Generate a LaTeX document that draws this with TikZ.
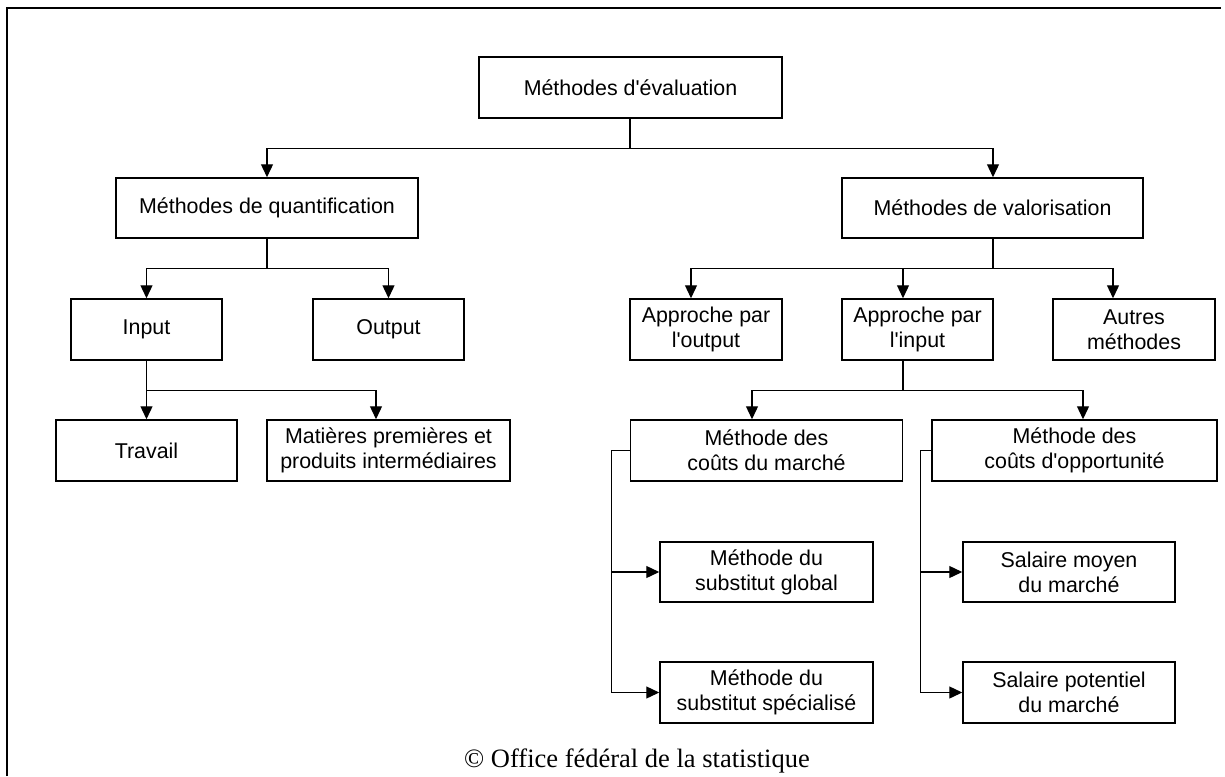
\documentclass[tikz,border=0pt]{standalone}
\usepackage{fontspec}
\setmainfont{Liberation Sans}
\newfontfamily\footfont{Liberation Serif}
\usetikzlibrary{arrows.meta}
\newcommand{\sq}{\textquotesingle}
\tikzset{
  box/.style={draw, line width=0.75pt, inner sep=0pt, align=center,
    font=\fontsize{10.7pt}{12.6pt}\selectfont},
  conn/.style={line width=0.65pt},
  arr/.style={conn, -{Triangle[width=6pt,length=6.5pt]}},
}
\begin{document}
\begin{tikzpicture}[x=0.5pt,y=-0.5pt]
\useasboundingbox (0,0) rectangle (1225,776);
% frame
\draw[line width=1pt] (6.5,776) -- (6.5,8) -- (1221,8);

% nodes
\node[box, minimum width=151.5pt, minimum height=30.5pt] (root) at (630.5,87.5) {Méthodes d\sq évaluation};
\node[box, minimum width=151pt, minimum height=30pt] (quant) at (267,208) {Méthodes de quantification};
\node[box, minimum width=150.5pt, minimum height=30pt] (valo) at (992.5,208) {Méthodes de valorisation};

\node[box, minimum width=75.5pt, minimum height=30.5pt] (input) at (146.5,329.5) {Input};
\node[box, minimum width=75.5pt, minimum height=30.5pt] (output) at (388.5,329.5) {Output};
\node[box, minimum width=90.5pt, minimum height=30.5pt] (travail) at (146.5,450.5) {Travail};
\node[box, minimum width=121.5pt, minimum height=30.5pt] (mat) at (388.5,450.5) {Matières premières et\\produits intermédiaires};

\node[box, minimum width=76pt, minimum height=30.5pt] (appout) at (706,329.5) {Approche par\\l\sq output};
\node[box, minimum width=75.5pt, minimum height=30.5pt] (appin) at (917.5,329.5) {Approche par\\l\sq input};
\node[box, minimum width=81pt, minimum height=30.5pt] (autres) at (1134,329.5) {Autres\\méthodes};

\node[box, minimum width=136pt, minimum height=30.5pt] (marche) at (766.5,450.5) {Méthode des\\coûts du marché};
\node[box, minimum width=142.5pt, minimum height=30.5pt] (opport) at (1074.5,450.5) {Méthode des\\coûts d\sq opportunité};

\node[box, minimum width=106.5pt, minimum height=30pt] (subglob) at (766.5,572) {Méthode du\\substitut global};
\node[box, minimum width=106.5pt, minimum height=30.5pt] (subspec) at (766.5,692.5) {Méthode du\\substitut spécialisé};
\node[box, minimum width=106pt, minimum height=30pt] (salmoy) at (1069,572) {Salaire moyen\\du marché};
\node[box, minimum width=106pt, minimum height=30.5pt] (salpot) at (1069,692.5) {Salaire potentiel\\du marché};

\node[font=\footfont\fontsize{13.25pt}{15pt}\selectfont, anchor=base, inner sep=0pt] (foot) at (637,767) {© Office fédéral de la statistique};

% connectors
\draw[arr] ([xshift=-0.25pt]root.south) -- ++(0,30) -| (quant.north);
\draw[arr] ([xshift=-0.25pt]root.south) -- ++(0,30) -| ([xshift=0.25pt]valo.north);

\draw[arr] (quant.south) -- ++(0,30) -| (input.north);
\draw[arr] (quant.south) -- ++(0,30) -| (output.north);

\draw[arr] (input.south) -- ++(0,30) -| (travail.north);
\draw[arr] (input.south) -- ++(0,30) -| ([xshift=-6.25pt]mat.north);

\draw[arr] ([xshift=0.25pt]valo.south) -- ++(0,30) -| ([xshift=-7.5pt]appout.north);
\draw[arr] ([xshift=0.25pt]valo.south) -- ++(0,30) -| ([xshift=-7.25pt]appin.north);
\draw[arr] ([xshift=0.25pt]valo.south) -- ++(0,30) -| ([xshift=-10.5pt]autres.north);

\draw[arr] ([xshift=-7.25pt]appin.south) -- ++(0,30) -| ([xshift=-7.25pt]marche.north);
\draw[arr] ([xshift=-7.25pt]appin.south) -- ++(0,30) -| ([xshift=4.25pt]opport.north);

\draw[arr] (marche.west) -- ++(-18,0) |- (subglob.west);
\draw[arr] (marche.west) -- ++(-18,0) |- (subspec.west);
\draw[arr] (opport.west) -- ++(-11,0) |- (salmoy.west);
\draw[arr] (opport.west) -- ++(-11,0) |- (salpot.west);
\end{tikzpicture}
\end{document}
